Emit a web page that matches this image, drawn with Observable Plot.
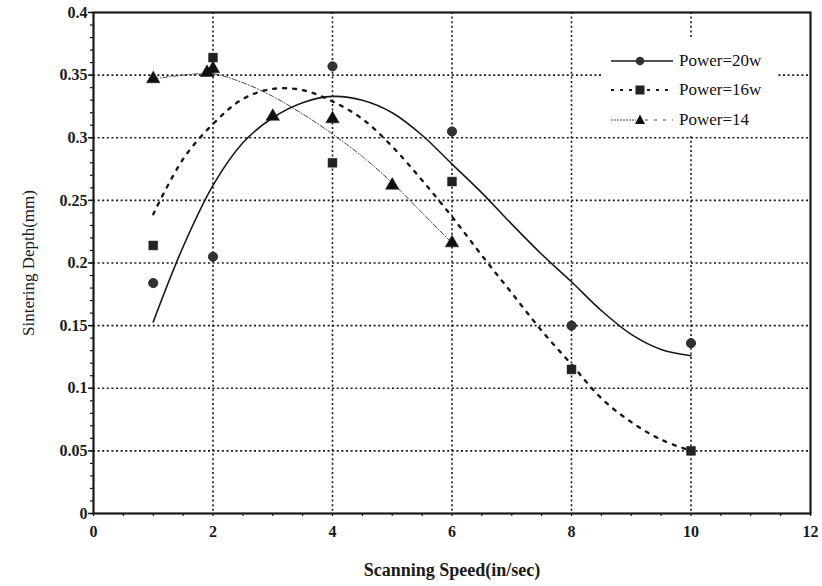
<!DOCTYPE html>
<html>
<head>
<meta charset="utf-8">
<script src="https://cdn.jsdelivr.net/npm/d3@7"></script>
<script src="https://cdn.jsdelivr.net/npm/@observablehq/plot@0.6"></script>
<style>
  html, body { margin: 0; padding: 0; background: #fff; }
  #wrap { position: relative; width: 822px; height: 586px; font-family: "Liberation Serif", "Times New Roman", serif; }
  #wrap svg, #wrap svg text { font-family: "Liberation Serif", "Times New Roman", serif !important; }
  #wrap svg g[aria-label$="tick label"] text { font-size: 16px; font-weight: bold; }
  #legend { position: absolute; left: 602px; top: 37px; width: 176px; height: 97px; background: #fff; }
  .row { position: absolute; left: 0; height: 20px; display: flex; align-items: center; }
  .row span { font-size: 17px; color: #111; margin-left: 4px; font-family: "Liberation Serif", serif; }
</style>
</head>
<body>
<div id="wrap"></div>
<script>
// ---- measured points ----
const speed20 = [1, 2, 4, 6, 8, 10];
const depth20 = [0.184, 0.205, 0.357, 0.305, 0.150, 0.136];
const speed16 = [1, 2, 4, 6, 8, 10];
const depth16 = [0.214, 0.364, 0.280, 0.265, 0.115, 0.050];
const speed14 = [1, 1.9, 2, 3, 4, 5, 6];
const depth14 = [0.347, 0.352, 0.355, 0.317, 0.315, 0.262, 0.216];

// ---- fitted curves ----
const fitSpeed20 = [1, 1.5, 2, 2.5, 3, 3.5, 4, 4.5, 5, 5.5, 6, 6.5, 7, 7.5, 8, 8.5, 9, 9.5, 10];
const fitDepth20 = [0.153, 0.213, 0.262, 0.296, 0.316, 0.328, 0.333, 0.330, 0.320, 0.302, 0.279, 0.256, 0.231, 0.207, 0.185, 0.162, 0.143, 0.131, 0.126];
const fitSpeed16 = [1, 1.5, 2, 2.5, 3, 3.5, 4, 4.5, 5, 5.5, 6, 6.5, 7, 7.5, 8, 8.5, 9, 9.5, 10];
const fitDepth16 = [0.239, 0.283, 0.311, 0.331, 0.339, 0.338, 0.329, 0.315, 0.293, 0.266, 0.237, 0.206, 0.176, 0.146, 0.119, 0.092, 0.073, 0.059, 0.050];
const fitSpeed14 = [1, 1.5, 2, 2.5, 3, 3.5, 4, 4.5, 5, 5.5, 6];
const fitDepth14 = [0.347, 0.350, 0.351, 0.344, 0.333, 0.319, 0.303, 0.285, 0.264, 0.240, 0.216];

// ---- axes ----
const xTicks = [0, 2, 4, 6, 8, 10, 12];
const yTicks = [0, 0.05, 0.1, 0.15, 0.2, 0.25, 0.3, 0.35, 0.4];
const xGrid = [2, 4, 6, 8, 10];
const yGrid = [0.05, 0.1, 0.15, 0.2, 0.25, 0.3, 0.35];
const xMinor = d3.range(0, 12.001, 0.5);
const yMinor = d3.range(0, 0.4001, 0.01);

const legendItems = ["Power=20w", "Power=16w", "Power=14"];

const pts = (xs, ys) => xs.map((x, i) => ({x, y: ys[i]}));

const ink = "#1a1a1a";
const fmt = d => d === 0 ? "0" : String(+d.toFixed(2));

const chart = Plot.plot({
  width: 822,
  height: 586,
  marginLeft: 93,
  marginRight: 12,
  marginTop: 12,
  marginBottom: 73,
  style: {fontFamily: "'Liberation Serif', 'Times New Roman', serif", background: "#fff", color: ink},
  x: {domain: [0, 12]},
  y: {domain: [0, 0.4]},
  marks: [
    Plot.ruleY(yGrid, {stroke: ink, strokeWidth: 1.6, strokeDasharray: "2,2.6"}),
    Plot.ruleX(xGrid, {stroke: ink, strokeWidth: 1.6, strokeDasharray: "2,2.6"}),
    Plot.axisY(yMinor, {tickSize: 3, tickFormat: null, text: null, strokeWidth: 1.2, label: null}),
    Plot.axisX(xMinor, {tickSize: 3, tickFormat: null, text: null, strokeWidth: 1.2, label: null}),
    Plot.axisY(yTicks, {tickSize: 5, tickFormat: fmt, fontSize: 16, fontWeight: "bold", tickPadding: 1,
      label: "Sintering Depth(mm)", labelAnchor: "center", labelArrow: "none", labelOffset: 72, strokeWidth: 1.5}),
    Plot.axisX(xTicks, {tickSize: 0, tickFormat: fmt, fontSize: 16, fontWeight: "bold", tickPadding: 12,
      label: "Scanning Speed(in/sec)", labelAnchor: "center", labelArrow: "none", labelOffset: 62}),
    Plot.frame({stroke: ink, strokeWidth: 2.2}),
    Plot.line(pts(fitSpeed20, fitDepth20), {x: "x", y: "y", curve: "catmull-rom", stroke: ink, strokeWidth: 1.6}),
    Plot.line(pts(fitSpeed16, fitDepth16), {x: "x", y: "y", curve: "catmull-rom", stroke: ink, strokeWidth: 2.4, strokeDasharray: "3,7"}),
    Plot.line(pts(fitSpeed14, fitDepth14), {x: "x", y: "y", curve: "catmull-rom", stroke: "#444", strokeWidth: 1, strokeDasharray: "5,2,1,2"}),
    Plot.dot(pts(speed20, depth20), {x: "x", y: "y", symbol: "circle", r: 4.6, fill: "#333", stroke: ink, strokeWidth: 0.8}),
    Plot.dot(pts(speed16, depth16), {x: "x", y: "y", symbol: "square", r: 5, fill: "#222", stroke: ink, strokeWidth: 0.5}),
    Plot.dot(pts(speed14, depth14), {x: "x", y: "y", symbol: "triangle", r: 5, fill: "#111", stroke: ink, strokeWidth: 0.5})
  ]
});

const wrap = document.getElementById("wrap");
wrap.appendChild(chart);
chart.querySelectorAll("text").forEach(t => {
  const txt = t.textContent;
  if (txt === "Sintering Depth(mm)") { t.style.fontSize = "17px"; t.style.fontWeight = "normal"; }
  else if (txt === "Scanning Speed(in/sec)") { t.style.fontSize = "18px"; t.style.fontWeight = "bold"; }
  else { t.style.fontSize = "16px"; t.style.fontWeight = "bold"; }
});

// legend overlay (white panel covering the grid, as in the original)
const legend = document.createElement("div");
legend.id = "legend";
const swatch = [
  `<line x1="0" y1="10" x2="62" y2="10" stroke="${ink}" stroke-width="1.6"/><circle cx="29" cy="10" r="4.3" fill="#333"/>`,
  `<line x1="0" y1="10" x2="62" y2="10" stroke="${ink}" stroke-width="2.2" stroke-dasharray="3,6"/><rect x="24.5" y="5.5" width="9" height="9" fill="#222"/>`,
  `<line x1="0" y1="10" x2="25" y2="10" stroke="#444" stroke-width="1" stroke-dasharray="2,1"/><line x1="34" y1="10" x2="62" y2="10" stroke="#444" stroke-width="1" stroke-dasharray="3,6"/><path d="M29,4.5 L34,14 L24,14 Z" fill="#111"/>`
];
const rowTops = [14, 43, 73];
legendItems.forEach((name, i) => {
  const row = document.createElement("div");
  row.className = "row";
  row.style.top = rowTops[i] + "px";
  row.style.left = "9px";
  row.innerHTML = `<svg width="64" height="20">${swatch[i]}</svg><span>${name}</span>`;
  legend.appendChild(row);
});
wrap.appendChild(legend);
</script>
</body>
</html>
